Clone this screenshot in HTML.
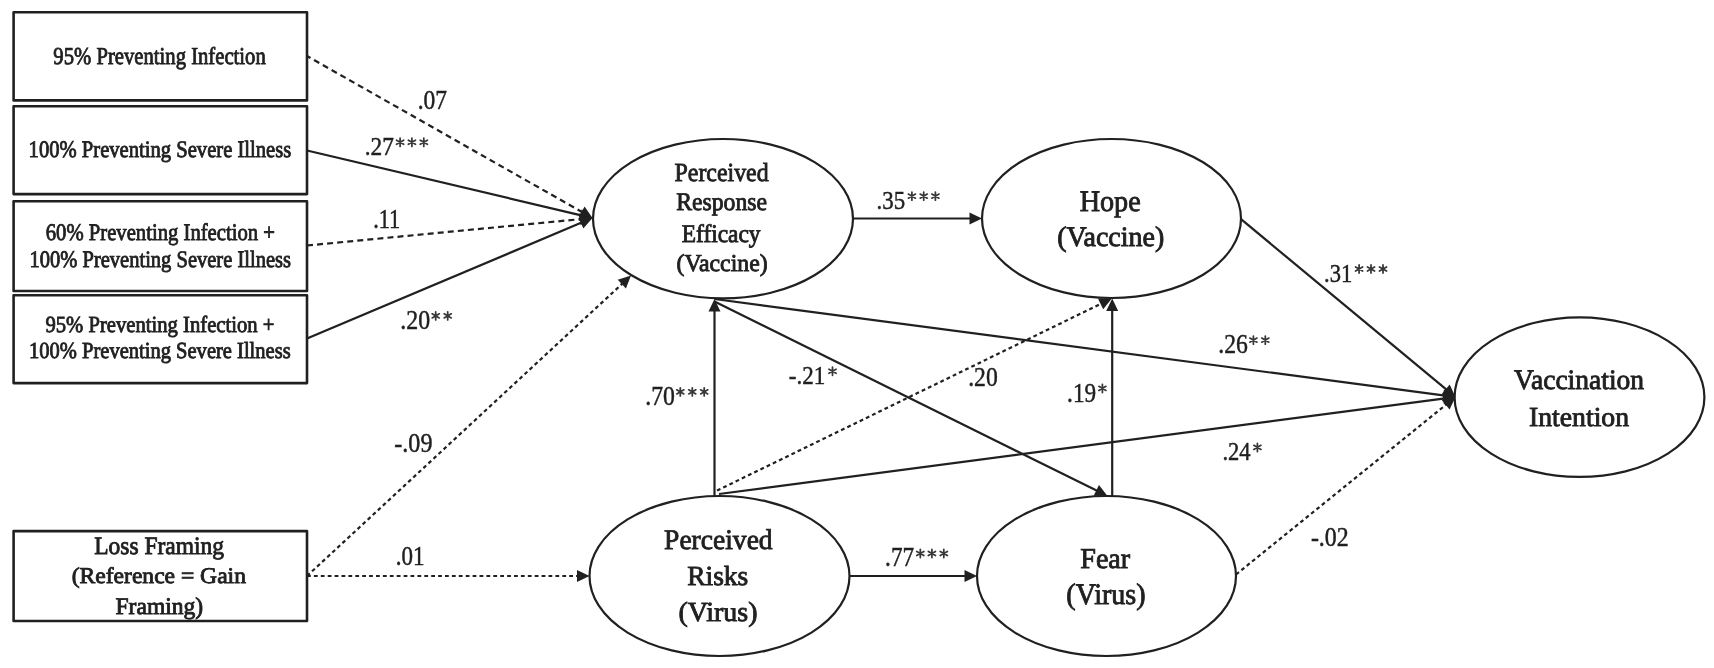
<!DOCTYPE html><html><head><meta charset="utf-8"><style>html,body{margin:0;padding:0;background:#fff;width:1714px;height:668px;overflow:hidden}svg{display:block;filter:blur(0.35px)}</style></head><body><svg width="1714" height="668" viewBox="0 0 1714 668"><rect width="1714" height="668" fill="#ffffff"/><rect x="13.6" y="12.2" width="293.40" height="88.20" fill="none" stroke="#202020" stroke-width="2.6" stroke-linejoin="round"/><rect x="13.6" y="106.3" width="293.40" height="87.80" fill="none" stroke="#202020" stroke-width="2.6" stroke-linejoin="round"/><rect x="13.6" y="201.3" width="293.40" height="89.70" fill="none" stroke="#202020" stroke-width="2.6" stroke-linejoin="round"/><rect x="13.6" y="295.2" width="293.40" height="87.90" fill="none" stroke="#202020" stroke-width="2.6" stroke-linejoin="round"/><rect x="13.6" y="531.1" width="293.40" height="89.90" fill="none" stroke="#202020" stroke-width="2.6" stroke-linejoin="round"/><ellipse cx="723" cy="218.7" rx="130" ry="79.7" fill="none" stroke="#202020" stroke-width="2.2"/><ellipse cx="1111.5" cy="218.5" rx="129.5" ry="79.5" fill="none" stroke="#202020" stroke-width="2.2"/><ellipse cx="719.5" cy="576" rx="130" ry="80" fill="none" stroke="#202020" stroke-width="2.2"/><ellipse cx="1106.5" cy="576" rx="129.5" ry="80" fill="none" stroke="#202020" stroke-width="2.2"/><ellipse cx="1579.5" cy="397.2" rx="124.9" ry="79.75" fill="none" stroke="#202020" stroke-width="2.2"/><line x1="307" y1="56" x2="583.37" y2="212.82" stroke="#202020" stroke-width="2.2" stroke-dasharray="6 4.1" stroke-dashoffset="2.0"/><path d="M592.50,218.00 L578.67,217.05 L584.59,206.61 Z" fill="#202020"/><line x1="307" y1="150.5" x2="582.28" y2="215.58" stroke="#202020" stroke-width="2.2"/><path d="M592.50,218.00 L578.95,220.96 L581.72,209.28 Z" fill="#202020"/><line x1="307" y1="245.5" x2="582.05" y2="219.01" stroke="#202020" stroke-width="2.2" stroke-dasharray="6 4.1"/><path d="M592.50,218.00 L580.63,225.17 L579.48,213.23 Z" fill="#202020"/><line x1="307" y1="338.5" x2="582.83" y2="222.08" stroke="#202020" stroke-width="2.2"/><path d="M592.50,218.00 L583.32,228.39 L578.65,217.33 Z" fill="#202020"/><line x1="307" y1="576" x2="623.30" y2="282.74" stroke="#202020" stroke-width="2.2" stroke-dasharray="3.8 3.1"/><path d="M631.00,275.60 L625.91,288.50 L617.75,279.70 Z" fill="#202020"/><line x1="307" y1="576" x2="579.00" y2="576.00" stroke="#202020" stroke-width="2.2" stroke-dasharray="3.8 3.1"/><path d="M589.50,576.00 L577.00,582.00 L577.00,570.00 Z" fill="#202020"/><line x1="853" y1="218.5" x2="971.50" y2="218.50" stroke="#202020" stroke-width="2.2"/><path d="M982.00,218.50 L969.50,224.50 L969.50,212.50 Z" fill="#202020"/><line x1="1241" y1="219.2" x2="1447.42" y2="390.30" stroke="#202020" stroke-width="2.2"/><path d="M1455.50,397.00 L1442.05,393.64 L1449.71,384.40 Z" fill="#202020"/><line x1="714.5" y1="299" x2="1445.09" y2="395.62" stroke="#202020" stroke-width="2.2"/><path d="M1455.50,397.00 L1442.32,401.31 L1443.89,389.41 Z" fill="#202020"/><line x1="714.5" y1="496" x2="714.50" y2="309.50" stroke="#202020" stroke-width="2.2"/><path d="M714.50,299.00 L720.50,311.50 L708.50,311.50 Z" fill="#202020"/><line x1="714.5" y1="301.5" x2="1098.09" y2="491.34" stroke="#202020" stroke-width="2.2"/><path d="M1107.50,496.00 L1093.64,495.83 L1098.96,485.08 Z" fill="#202020"/><line x1="717" y1="490.6" x2="1102.36" y2="303.09" stroke="#202020" stroke-width="2.2" stroke-dasharray="3.8 3.1"/><path d="M1111.80,298.50 L1103.19,309.36 L1097.93,298.57 Z" fill="#202020"/><line x1="1112.2" y1="496" x2="1112.20" y2="309.00" stroke="#202020" stroke-width="2.2"/><path d="M1112.20,298.50 L1118.20,311.00 L1106.20,311.00 Z" fill="#202020"/><line x1="719" y1="494" x2="1445.09" y2="398.37" stroke="#202020" stroke-width="2.2"/><path d="M1455.50,397.00 L1443.89,404.58 L1442.32,392.68 Z" fill="#202020"/><line x1="850" y1="576" x2="966.50" y2="576.00" stroke="#202020" stroke-width="2.2"/><path d="M977.00,576.00 L964.50,582.00 L964.50,570.00 Z" fill="#202020"/><line x1="1236" y1="574.5" x2="1447.34" y2="403.60" stroke="#202020" stroke-width="2.2" stroke-dasharray="3.8 3.1"/><path d="M1455.50,397.00 L1449.55,409.53 L1442.01,400.19 Z" fill="#202020"/><g stroke="#383838" stroke-width="1.75" stroke-linecap="round" fill="none"><path d="M400.10,138.20L400.10,146.40M396.55,140.25L403.65,144.35M396.55,144.35L403.65,140.25"/><path d="M411.90,138.20L411.90,146.40M408.35,140.25L415.45,144.35M408.35,144.35L415.45,140.25"/><path d="M423.80,138.20L423.80,146.40M420.25,140.25L427.35,144.35M420.25,144.35L427.35,140.25"/><path d="M435.70,311.75L435.70,319.95M432.15,313.80L439.25,317.90M432.15,317.90L439.25,313.80"/><path d="M447.70,311.75L447.70,319.95M444.15,313.80L451.25,317.90M444.15,317.90L451.25,313.80"/><path d="M911.90,192.00L911.90,200.20M908.35,194.05L915.45,198.15M908.35,198.15L915.45,194.05"/><path d="M923.70,192.00L923.70,200.20M920.15,194.05L927.25,198.15M920.15,198.15L927.25,194.05"/><path d="M935.40,192.00L935.40,200.20M931.85,194.05L938.95,198.15M931.85,198.15L938.95,194.05"/><path d="M1359.10,264.90L1359.10,273.10M1355.55,266.95L1362.65,271.05M1355.55,271.05L1362.65,266.95"/><path d="M1371.00,264.90L1371.00,273.10M1367.45,266.95L1374.55,271.05M1367.45,271.05L1374.55,266.95"/><path d="M1383.00,264.90L1383.00,273.10M1379.45,266.95L1386.55,271.05M1379.45,271.05L1386.55,266.95"/><path d="M1253.40,336.00L1253.40,344.20M1249.85,338.05L1256.95,342.15M1249.85,342.15L1256.95,338.05"/><path d="M1265.30,336.00L1265.30,344.20M1261.75,338.05L1268.85,342.15M1261.75,342.15L1268.85,338.05"/><path d="M1257.40,443.30L1257.40,451.50M1253.85,445.35L1260.95,449.45M1253.85,449.45L1260.95,445.35"/><path d="M680.30,387.75L680.30,395.95M676.75,389.80L683.85,393.90M676.75,393.90L683.85,389.80"/><path d="M692.30,387.75L692.30,395.95M688.75,389.80L695.85,393.90M688.75,393.90L695.85,389.80"/><path d="M704.20,387.75L704.20,395.95M700.65,389.80L707.75,393.90M700.65,393.90L707.75,389.80"/><path d="M832.50,367.10L832.50,375.30M828.95,369.15L836.05,373.25M828.95,373.25L836.05,369.15"/><path d="M1102.40,384.30L1102.40,392.50M1098.85,386.35L1105.95,390.45M1098.85,390.45L1105.95,386.35"/><path d="M920.30,549.40L920.30,557.60M916.75,551.45L923.85,555.55M916.75,555.55L923.85,551.45"/><path d="M931.90,549.40L931.90,557.60M928.35,551.45L935.45,555.55M928.35,555.55L935.45,551.45"/><path d="M943.80,549.40L943.80,557.60M940.25,551.45L947.35,555.55M940.25,555.55L947.35,551.45"/></g><g text-rendering="geometricPrecision" font-family="Liberation Serif, serif" fill="#202020" stroke="#202020" stroke-width="0.85"><text transform="translate(53.33,63.70) scale(0.8509,1)" font-size="24.30">95% Preventing Infection</text><text transform="translate(28.60,157.00) scale(0.8728,1)" font-size="23.61">100% Preventing Severe Illness</text><text transform="translate(45.72,240.20) scale(0.8703,1)" font-size="23.76">60% Preventing Infection +</text><text transform="translate(29.51,266.70) scale(0.8688,1)" font-size="23.61">100% Preventing Severe Illness</text><text transform="translate(45.43,332.00) scale(0.8949,1)" font-size="23.09">95% Preventing Infection +</text><text transform="translate(29.00,358.00) scale(0.8925,1)" font-size="23.01">100% Preventing Severe Illness</text><text transform="translate(94.20,554.20) scale(0.9384,1)" font-size="25.04">Loss Framing</text><text transform="translate(71.74,583.30) scale(1.0478,1)" font-size="22.49">(Reference = Gain</text><text transform="translate(115.49,613.90) scale(0.9893,1)" font-size="23.82">Framing)</text><text transform="translate(674.58,181.20) scale(0.9134,1)" font-size="26.11">Perceived</text><text transform="translate(676.19,210.40) scale(0.9357,1)" font-size="25.34">Response</text><text transform="translate(681.70,242.10) scale(0.9247,1)" font-size="25.34">Efficacy</text><text transform="translate(676.53,271.30) scale(0.9797,1)" font-size="24.27">(Vaccine)</text><text transform="translate(1079.65,210.90) scale(0.9474,1)" font-size="29.77">Hope</text><text transform="translate(1057.14,246.40) scale(0.9905,1)" font-size="28.24">(Vaccine)</text><text transform="translate(664.07,548.80) scale(0.9698,1)" font-size="28.40">Perceived</text><text transform="translate(687.18,585.10) scale(0.9946,1)" font-size="27.63">Risks</text><text transform="translate(678.44,621.30) scale(1.0117,1)" font-size="27.63">(Virus)</text><text transform="translate(1080.26,568.40) scale(0.9740,1)" font-size="28.85">Fear</text><text transform="translate(1066.34,604.10) scale(0.9415,1)" font-size="29.77">(Virus)</text><text transform="translate(1514.12,389.30) scale(0.9751,1)" font-size="28.24">Vaccination</text><text transform="translate(1529.03,425.90) scale(1.0089,1)" font-size="27.48">Intention</text></g><g font-family="Liberation Serif, serif" fill="#202020" stroke="#202020" stroke-width="0.45"><text transform="translate(417.67,108.60) scale(0.8865,1)" font-size="26.47">.07</text><text transform="translate(364.68,155.10) scale(0.9004,1)" font-size="25.96">.27</text><text transform="translate(373.15,228.10) scale(0.8379,1)" font-size="26.67">.11</text><text transform="translate(400.25,328.60) scale(0.9022,1)" font-size="26.47">.20</text><text transform="translate(394.30,451.60) scale(0.9165,1)" font-size="26.32">-.09</text><text transform="translate(395.70,564.60) scale(0.8748,1)" font-size="26.32">.01</text><text transform="translate(876.51,209.20) scale(0.8814,1)" font-size="25.96">.35</text><text transform="translate(1324.03,281.60) scale(0.8596,1)" font-size="26.26">.31</text><text transform="translate(1218.26,352.90) scale(0.8847,1)" font-size="26.72">.26</text><text transform="translate(1222.43,460.40) scale(0.8591,1)" font-size="26.26">.24</text><text transform="translate(1310.90,545.70) scale(0.9028,1)" font-size="26.47">-.02</text><text transform="translate(645.25,404.80) scale(0.8989,1)" font-size="26.47">.70</text><text transform="translate(788.73,384.20) scale(0.8794,1)" font-size="26.26">-.21</text><text transform="translate(968.16,386.00) scale(0.8956,1)" font-size="26.47">.20</text><text transform="translate(1067.09,401.60) scale(0.8745,1)" font-size="26.57">.19</text><text transform="translate(885.09,566.30) scale(0.8635,1)" font-size="26.87">.77</text></g></svg></body></html>
